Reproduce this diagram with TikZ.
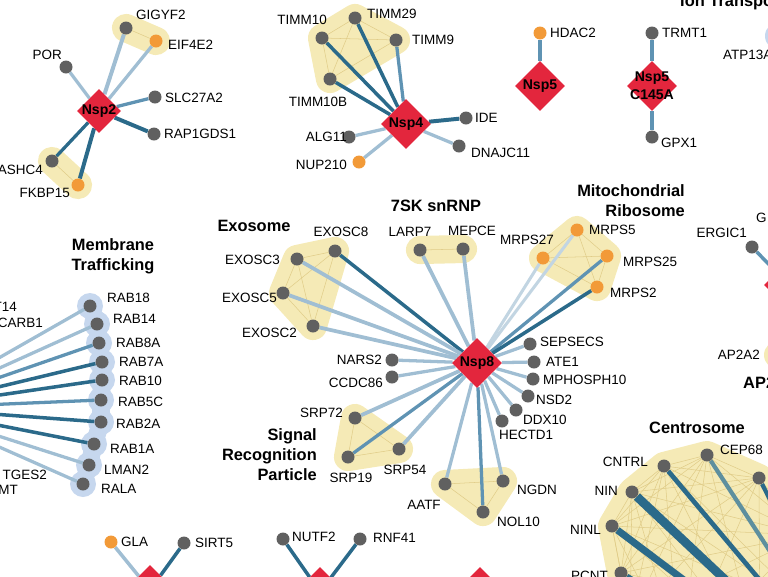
\documentclass[tikz,border=0pt]{standalone}
\usepackage{fontspec}
\setmainfont{Liberation Sans}
\usetikzlibrary{shapes.geometric}

\definecolor{nspred}{HTML}{E3263D}
\definecolor{dotgray}{HTML}{606060}
\definecolor{dotorange}{HTML}{F29A38}
\definecolor{hullyel}{HTML}{F5EAB6}
\definecolor{meshyel}{HTML}{E0CC88}
\definecolor{halobl}{HTML}{C6D7EE}
\definecolor{colpale}{HTML}{C2D5E2}
\definecolor{collite}{HTML}{A0BED3}
\definecolor{colmid}{HTML}{5F93B3}
\definecolor{coldark}{HTML}{2B6A8A}
\definecolor{colteal}{HTML}{5E8F9E}

\pgfdeclarelayer{hulls}
\pgfdeclarelayer{links}
\pgfsetlayers{hulls,links,main}

\tikzset{
  hub/.style={diamond, fill=nspred, inner sep=0pt, minimum width=1.5cm, minimum height=1.5cm},
  hubsm/.style={hub, minimum width=1.32cm, minimum height=1.32cm},
  hubtxt/.style={font=\fontsize{12}{15}\selectfont\bfseries, text=black, align=center, inner sep=0pt},
  dot/.style={circle, fill=dotgray, inner sep=0pt, minimum size=0.39cm},
  odot/.style={dot, fill=dotorange},
  lab/.style={font=\fontsize{11.5}{13}\selectfont, inner sep=0pt},
  ttl/.style={font=\fontsize{14}{17}\selectfont\bfseries, inner sep=0pt, align=center},
  hull/.style={draw=hullyel, fill=hullyel, line width=24pt, line join=round, line cap=round},
  mesh/.style={draw=meshyel, line width=0.45pt},
  epale/.style={draw=colpale, line width=#1}, epale/.default=2.6pt,
  elite/.style={draw=collite, line width=#1}, elite/.default=2.8pt,
  emid/.style={draw=colmid, line width=#1}, emid/.default=2.8pt,
  edark/.style={draw=coldark, line width=#1}, edark/.default=3pt,
}

\begin{document}
\begin{tikzpicture}[x=0.03cm,y=-0.03cm]
\useasboundingbox (0,0) rectangle (768,576);

% Nsp2
\node[hubsm, label={[hubtxt]center:Nsp2}] (nsp2) at (99,111) {};
\node[dot] (gigyf2) at (126,28) {};
\node[odot] (eif4e2) at (156,41) {};
\node[dot] (por) at (66,67) {};
\node[dot] (slc27a2) at (155,97) {};
\node[dot] (rap1gds1) at (154,134) {};
\node[dot] (ashc4) at (52,161) {};
\node[odot] (fkbp15) at (78,185) {};
\node[lab, anchor=west] (gigyf2-t) at (136,15) {GIGYF2};
\node[lab, anchor=west] (eif4e2-t) at (168,45) {EIF4E2};
\node[lab, anchor=east] (por-t) at (62,55) {POR};
\node[lab, anchor=west] (slc27a2-t) at (165,98) {SLC27A2};
\node[lab, anchor=west] (rap1gds1-t) at (164,134) {RAP1GDS1};
\node[lab, anchor=east] (ashc4-t) at (43,170) {ASHC4};
\node[lab, anchor=east] (fkbp15-t) at (70,193) {FKBP15};

% Nsp4
\node[hub, label={[hubtxt]center:Nsp4}] (nsp4) at (406,124) {};
\node[dot] (timm10) at (322,38) {};
\node[dot] (timm29) at (355,18) {};
\node[dot] (timm9) at (396,40) {};
\node[dot] (timm10b) at (330,79) {};
\node[dot] (ide) at (466,118) {};
\node[dot] (alg11) at (349,137) {};
\node[odot] (nup210) at (359,162) {};
\node[dot] (dnajc11) at (459,146) {};
\node[lab, anchor=east] (timm10-t) at (327,20) {TIMM10};
\node[lab, anchor=west] (timm29-t) at (367,14) {TIMM29};
\node[lab, anchor=west] (timm9-t) at (412,40) {TIMM9};
\node[lab] (timm10b-t) at (318,102) {TIMM10B};
\node[lab, anchor=west] (ide-t) at (475,118) {IDE};
\node[lab, anchor=east] (alg11-t) at (347,137) {ALG11};
\node[lab, anchor=east] (nup210-t) at (347,165) {NUP210};
\node[lab, anchor=west] (dnajc11-t) at (471,153) {DNAJC11};

% Nsp5 and Nsp5 C145A
\node[hub, label={[hubtxt]center:Nsp5}] (nsp5) at (540,86) {};
\node[odot] (hdac2) at (540,33) {};
\node[lab, anchor=west] (hdac2-t) at (550,33) {HDAC2};
\node[hub, label={[hubtxt]center:{Nsp5\\C145A}}] (nsp5m) at (652,86) {};
\node[dot] (trmt1) at (652,33) {};
\node[dot] (gpx1) at (652,137) {};
\node[lab, anchor=west] (trmt1-t) at (662,33) {TRMT1};
\node[lab, anchor=west] (gpx1-t) at (661,143) {GPX1};

% top right, cut by the frame
\node[ttl, anchor=base west] (ion-t) at (680,6) {Ion Transport};
\node[dot] (atp13a) at (779,36) {};
\node[lab, anchor=west] (atp13a-t) at (723,55) {ATP13A};

% Nsp8
\node[hub, label={[hubtxt]center:Nsp8}] (nsp8) at (477,363) {};
\node[dot] (exosc8) at (335,251) {};
\node[dot] (exosc3) at (297,259) {};
\node[dot] (exosc5) at (283,293) {};
\node[dot] (exosc2) at (313,326) {};
\node[dot] (nars2) at (392,360) {};
\node[dot] (ccdc86) at (392,377) {};
\node[dot] (larp7) at (420,250) {};
\node[dot] (mepce) at (463,249) {};
\node[odot] (mrps27) at (543,258) {};
\node[odot] (mrps5) at (577,230) {};
\node[odot] (mrps25) at (607,256) {};
\node[odot] (mrps2) at (597,287) {};
\node[dot] (sepsecs) at (530,344) {};
\node[dot] (ate1) at (534,362) {};
\node[dot] (mphosph10) at (533,379) {};
\node[dot] (nsd2) at (528,396) {};
\node[dot] (ddx10) at (516,410) {};
\node[dot] (hectd1) at (502,421) {};
\node[dot] (srp72) at (355,418) {};
\node[dot] (srp19) at (348,457) {};
\node[dot] (srp54) at (399,449) {};
\node[dot] (aatf) at (445,484) {};
\node[dot] (ngdn) at (503,481) {};
\node[dot] (nol10) at (483,512) {};

\node[ttl] (exo-t) at (254,226) {Exosome};
\node[ttl] (sk-t) at (436,206) {7SK snRNP};
\node[ttl, anchor=east, align=right] (mito-t) at (685,201) {Mitochondrial\\Ribosome};
\node[ttl, anchor=east, align=right] (srp-t) at (317,455) {Signal\\Recognition\\Particle};

\node[lab] (exosc8-t) at (341,232) {EXOSC8};
\node[lab, anchor=east] (exosc3-t) at (280,260) {EXOSC3};
\node[lab, anchor=east] (exosc5-t) at (277,298) {EXOSC5};
\node[lab, anchor=east] (exosc2-t) at (297,333) {EXOSC2};
\node[lab, anchor=east] (nars2-t) at (382,360) {NARS2};
\node[lab, anchor=east] (ccdc86-t) at (383,383) {CCDC86};
\node[lab] (larp7-t) at (410,232) {LARP7};
\node[lab] (mepce-t) at (472,231) {MEPCE};
\node[lab] (mrps27-t) at (527,240) {MRPS27};
\node[lab, anchor=west] (mrps5-t) at (589,230) {MRPS5};
\node[lab, anchor=west] (mrps25-t) at (623,262) {MRPS25};
\node[lab, anchor=west] (mrps2-t) at (610,293) {MRPS2};
\node[lab, anchor=west] (sepsecs-t) at (540,342) {SEPSECS};
\node[lab, anchor=west] (ate1-t) at (546,362) {ATE1};
\node[lab, anchor=west] (mphosph10-t) at (543,380) {MPHOSPH10};
\node[lab, anchor=west] (nsd2-t) at (536,400) {NSD2};
\node[lab, anchor=west] (ddx10-t) at (523,420) {DDX10};
\node[lab, anchor=west] (hectd1-t) at (499,435) {HECTD1};
\node[lab, anchor=east] (srp72-t) at (343,413) {SRP72};
\node[lab] (srp19-t) at (351,478) {SRP19};
\node[lab] (srp54-t) at (405,470) {SRP54};
\node[lab] (aatf-t) at (424,505) {AATF};
\node[lab, anchor=west] (ngdn-t) at (517,490) {NGDN};
\node[lab, anchor=west] (nol10-t) at (497,522) {NOL10};

% Membrane trafficking
\coordinate (rabhub) at (-89,408);
\node[ttl] (memb-t) at (113,256) {Membrane\\Trafficking};
\node[dot] (rab18) at (90,306) {};
\node[dot] (rab14) at (97,324) {};
\node[dot] (rab8a) at (99,343) {};
\node[dot] (rab7a) at (102,362) {};
\node[dot] (rab10) at (102,380) {};
\node[dot] (rab5c) at (101,400) {};
\node[dot] (rab2a) at (101,422) {};
\node[dot] (rab1a) at (94,444) {};
\node[dot] (lman2) at (89,465) {};
\node[dot] (rala) at (83,484) {};
\node[lab, anchor=west] (rab18-t) at (107,298) {RAB18};
\node[lab, anchor=west] (rab14-t) at (113,319) {RAB14};
\node[lab, anchor=west] (rab8a-t) at (116,343) {RAB8A};
\node[lab, anchor=west] (rab7a-t) at (119,362) {RAB7A};
\node[lab, anchor=west] (rab10-t) at (119,381) {RAB10};
\node[lab, anchor=west] (rab5c-t) at (118,402) {RAB5C};
\node[lab, anchor=west] (rab2a-t) at (116,424) {RAB2A};
\node[lab, anchor=west] (rab1a-t) at (110,449) {RAB1A};
\node[lab, anchor=west] (lman2-t) at (104,470) {LMAN2};
\node[lab, anchor=west] (rala-t) at (101,489) {RALA};
\node[lab, anchor=east] (cut1-t) at (17,307) {T14};
\node[lab, anchor=east] (cut2-t) at (43,323) {CARB1};
\node[lab, anchor=east] (cut3-t) at (47,475) {TGES2};
\node[lab, anchor=east] (cut4-t) at (18,490) {MT};

% bottom row
\node[hub] (hubA) at (150,590) {};
\node[odot] (gla) at (111,542) {};
\node[dot] (sirt5) at (184,543) {};
\node[lab, anchor=west] (gla-t) at (121,542) {GLA};
\node[lab, anchor=west] (sirt5-t) at (195,543) {SIRT5};
\node[hub] (hubB) at (320,592) {};
\node[dot] (nutf2) at (283,539) {};
\node[dot] (rnf41) at (360,539) {};
\node[lab, anchor=west] (nutf2-t) at (292,537) {NUTF2};
\node[lab, anchor=west] (rnf41-t) at (373,538) {RNF41};
\node[hub] (hubC) at (480,592) {};

% right edge
\node[hub] (hubD) at (789,285) {};
\node[dot] (ergic1) at (752,247) {};
\node[lab, anchor=east] (ergic1-t) at (747,233) {ERGIC1};
\node[lab, anchor=west] (g-t) at (756,218) {G};
\node[dot] (ap2a2) at (778,355) {};
\node[lab, anchor=east] (ap2a2-t) at (760,355) {AP2A2};
\node[ttl, anchor=west] (ap2-t) at (743,383) {AP2};

% Centrosome
\coordinate (cenhub) at (890,735);
\node[ttl] (cent-t) at (697,428) {Centrosome};
\node[dot] (cep68) at (707,455) {};
\node[dot] (cntrl) at (664,466) {};
\node[dot] (nin) at (632,492) {};
\node[dot] (ninl) at (612,526) {};
\node[dot] (pcnt) at (621,573) {};
\node[dot] (cnt6) at (759,478) {};
\node[dot] (cnt7) at (805,535) {};
\node[dot] (cnt8) at (810,610) {};
\node[dot] (cnt9) at (760,660) {};
\node[dot] (cnt10) at (680,660) {};
\node[dot] (cnt11) at (630,620) {};
\node[lab, anchor=west] (cep68-t) at (720,450) {CEP68};
\node[lab, anchor=east] (cntrl-t) at (648,462) {CNTRL};
\node[lab, anchor=east] (nin-t) at (618,491) {NIN};
\node[lab, anchor=east] (ninl-t) at (601,530) {NINL};
\node[lab, anchor=east] (pcnt-t) at (608,576) {PCNT};

\begin{pgfonlayer}{hulls}
\draw[hull] (gigyf2.center) -- (eif4e2.center);
\draw[hull] (ashc4.center) -- (fkbp15.center);
\draw[hull] (timm10.center) -- (timm29.center) -- (timm9.center) -- (timm10b.center) -- cycle;
\draw[hull] (larp7.center) -- (mepce.center);
\draw[hull] (mrps27.center) -- (mrps5.center) -- (mrps25.center) -- (mrps2.center) -- cycle;
\draw[hull] (exosc3.center) -- (exosc8.center) -- (exosc2.center) -- (exosc5.center) -- cycle;
\draw[hull] (srp72.center) -- (srp54.center) -- (srp19.center) -- cycle;
\draw[hull] (aatf.center) -- (ngdn.center) -- (nol10.center) -- cycle;
\draw[hull] (pcnt.center) -- (ninl.center) -- (nin.center) -- (cntrl.center) -- (cep68.center)
  -- (cnt6.center) -- (cnt7.center) -- (cnt8.center) -- (cnt9.center) -- (cnt10.center) -- (cnt11.center) -- cycle;
\fill[hullyel] (ap2a2) circle (0.42cm);
\fill[halobl] (atp13a) circle (0.42cm);
\draw[halobl, line width=15pt, line join=round] (rab18.center) -- (rab14.center) -- (rab8a.center) -- (rab7a.center)
  -- (rab10.center) -- (rab5c.center) -- (rab2a.center) -- (rab1a.center) -- (lman2.center) -- (rala.center);
\foreach \n in {rab18,rab14,rab8a,rab7a,rab10,rab5c,rab2a,rab1a,lman2,rala}
  \fill[halobl] (\n) circle (0.39cm);
% links inside the groups
\foreach \a/\b in {gigyf2/eif4e2, ashc4/fkbp15, larp7/mepce,
  timm10/timm29, timm10/timm9, timm10/timm10b, timm29/timm9, timm29/timm10b, timm9/timm10b,
  mrps27/mrps5, mrps27/mrps25, mrps27/mrps2, mrps5/mrps25, mrps5/mrps2, mrps25/mrps2,
  exosc3/exosc8, exosc3/exosc5, exosc3/exosc2, exosc8/exosc5, exosc8/exosc2, exosc5/exosc2,
  srp72/srp54, srp72/srp19, srp54/srp19, aatf/ngdn, aatf/nol10, ngdn/nol10}
  \draw[mesh] (\a) -- (\b);
\foreach \a [count=\i] in {pcnt,ninl,nin,cntrl,cep68,cnt6,cnt7,cnt8,cnt9,cnt10,cnt11}{
  \foreach \b [count=\j] in {pcnt,ninl,nin,cntrl,cep68,cnt6,cnt7,cnt8,cnt9,cnt10,cnt11}{
    \ifnum\j>\i \draw[mesh] (\a) -- (\b); \fi
  }
}
\end{pgfonlayer}

\begin{pgfonlayer}{links}
% Nsp2
\draw[elite=3.4pt] (nsp2) -- (gigyf2);
\draw[elite] (nsp2) -- (eif4e2);
\draw[elite] (nsp2) -- (por);
\draw[emid] (nsp2) -- (slc27a2);
\draw[edark=3.4pt] (nsp2) -- (rap1gds1);
\draw[edark=2.8pt] (nsp2) -- (ashc4);
\draw[edark=3.4pt] (nsp2) -- (fkbp15);
% Nsp4
\draw[edark] (nsp4) -- (timm10);
\draw[edark] (nsp4) -- (timm29);
\draw[emid] (nsp4) -- (timm9);
\draw[edark] (nsp4) -- (timm10b);
\draw[edark=3.4pt] (nsp4) -- (ide);
\draw[elite] (nsp4) -- (alg11);
\draw[elite] (nsp4) -- (nup210);
\draw[elite] (nsp4) -- (dnajc11);
% Nsp5
\draw[emid=3.4pt] (nsp5) -- (hdac2);
\draw[emid=3.4pt] (nsp5m) -- (trmt1);
\draw[emid=3.4pt] (nsp5m) -- (gpx1);
% Nsp8
\draw[edark] (nsp8) -- (exosc8);
\foreach \n in {exosc3,exosc5,exosc2,larp7,mepce,srp72,srp54}
  \draw[elite=3.2pt] (nsp8) -- (\n);
\foreach \n in {nars2,ccdc86,sepsecs,ate1,mphosph10,nsd2,ddx10,hectd1,aatf,ngdn}
  \draw[elite] (nsp8) -- (\n);
\draw[epale] (nsp8) -- (mrps27);
\draw[epale] (nsp8) -- (mrps5);
\draw[emid] (nsp8) -- (mrps25);
\draw[edark] (nsp8) -- (mrps2);
\draw[emid] (nsp8) -- (srp19);
\draw[emid] (nsp8) -- (nol10);
% membrane trafficking
\draw[elite] (rabhub) -- (rab18);
\draw[elite] (rabhub) -- (rab14);
\draw[emid] (rabhub) -- (rab8a);
\draw[edark] (rabhub) -- (rab7a);
\draw[edark] (rabhub) -- (rab10);
\draw[emid] (rabhub) -- (rab5c);
\draw[edark] (rabhub) -- (rab2a);
\draw[edark] (rabhub) -- (rab1a);
\draw[elite] (rabhub) -- (lman2);
\draw[elite] (rabhub) -- (rala);
% bottom and right
\draw[elite=3pt] (hubA) -- (gla);
\draw[edark] (hubA) -- (sirt5);
\draw[edark] (hubB) -- (nutf2);
\draw[edark] (hubB) -- (rnf41);
\draw[emid=3pt] (hubD) -- (ergic1);
% centrosome
\draw[edark=7.5pt] (cenhub) -- (nin);
\draw[edark=6pt] (cenhub) -- (ninl);
\draw[edark=4pt] (cenhub) -- (cntrl);
\draw[draw=colteal, line width=3.6pt] (cenhub) -- (cep68);
\draw[edark=3.6pt] (cenhub) -- (cnt6);
\draw[edark=5pt] (cenhub) -- (pcnt);
\end{pgfonlayer}

\end{tikzpicture}
\end{document}
